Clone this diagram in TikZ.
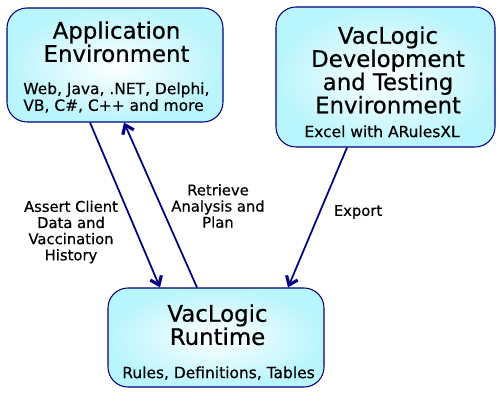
\documentclass[tikz,border=0pt]{standalone}
\usepackage{fontspec}
\setmainfont{DejaVu Sans}[FakeBold=0.5]
\usetikzlibrary{arrows.meta}
\definecolor{navyline}{RGB}{0,0,128}
\definecolor{paleaqua}{RGB}{185,245,252}

\begin{document}
\begin{tikzpicture}[
    envbox/.style={draw=navyline, line width=0.6pt, rounded corners=0.4cm,
        shade, inner color=white, outer color=paleaqua},
    title/.style={inner sep=0pt, anchor=north, align=center,
        font=\fontsize{13}{13.2}\selectfont},
    detail/.style={inner sep=0pt, font=\fontsize{8.8}{8.3}\selectfont},
    flowlabel/.style={inner sep=0pt, align=center, font=\fontsize{8.4}{9.2}\selectfont},
    flow/.style={draw=navyline, line width=1pt,
        -{Straight Barb[length=1.6mm,width=2.4mm,line width=1.8pt]}}
  ]
  \useasboundingbox (0,0) rectangle (10,8);

  % boxes
  \node[envbox, minimum width=4.32cm, minimum height=2.28cm] (app) at (2.30,6.70) {};
  \node[envbox, minimum width=4.38cm, minimum height=2.80cm] (dev) at (7.71,6.46) {};
  \node[envbox, minimum width=4.32cm, minimum height=1.98cm] (run) at (4.32,1.25) {};

  % box texts
  \node[title] (apptitle) at (2.33,7.58) {Application\\Environment};
  \node[detail, anchor=north west, align=left] (appdetail) at (0.46,6.36) {Web, Java, .NET, Delphi,\\VB, C\#, C++ and more};
  \node[title] (devtitle) at (7.76,7.48) {VacLogic\\Development\\and Testing\\Environment};
  \node[detail, anchor=north] (devdetail) at (7.64,5.50) {Excel with ARulesXL};
  \node[title] (runtitle) at (4.35,1.92) {VacLogic\\Runtime};
  \node[detail, anchor=north] (rundetail) at (4.37,0.68) {Rules, Definitions, Tables};

  % labels
  \node[flowlabel] (assertlbl) at (1.42,3.36) {Assert Client\\Data and\\Vaccination\\History};
  \node[flowlabel] (retrievelbl) at (4.36,3.88) {Retrieve\\Analysis and\\Plan};
  \node[flowlabel] (exportlbl) at (7.16,3.76) {Export};

  % arrows
  \draw[flow] ([xshift=-0.50cm]app.south) -- ([xshift=-1.12cm]run.north);
  \draw[flow] ([xshift=-0.38cm]run.north) -- ([xshift=0.18cm]app.south);
  \draw[flow] ([xshift=-0.77cm]dev.south) -- ([xshift=1.44cm]run.north);
\end{tikzpicture}
\end{document}
